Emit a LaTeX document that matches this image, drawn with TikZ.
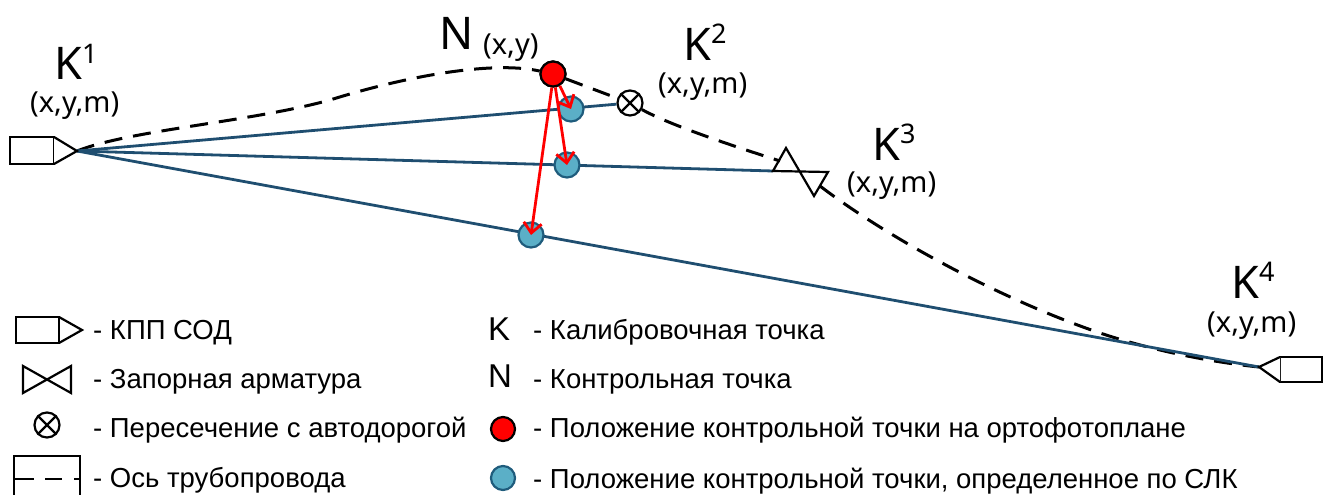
\documentclass[tikz,border=0pt]{standalone}
\usepackage{fontspec}
\setmainfont{Liberation Sans}
\newfontfamily\tah{Noto Sans}
\usetikzlibrary{arrows.meta}
\definecolor{pipeblue}{HTML}{1F4E70}
\definecolor{dotblue}{HTML}{5BAFC7}
\definecolor{dotedge}{HTML}{1F5C7C}
\tikzset{
 sym/.style={draw=black,line width=2.2pt,line join=miter},
 axis/.style={draw=black,line width=3pt,dash pattern=on 18pt off 11pt},
 route/.style={draw=pipeblue,line width=2.8pt},
 rarrow/.style={draw=red,line width=2.8pt,-{Straight Barb[length=10pt,width=18pt,line width=2.8pt]}},
 reddot/.style={circle,draw=black,fill=red,line width=2.2pt,minimum size=25pt,inner sep=0pt},
 bluedot/.style={circle,draw=dotedge,fill=dotblue,line width=2.2pt,minimum size=25pt,inner sep=0pt},
 crossc/.style={circle,draw=black,line width=2.2pt,minimum size=25pt,inner sep=0pt},
 bigk/.style={anchor=base west,inner sep=0pt,font=\tah\fontsize{45}{45}\selectfont},
 coord/.style={anchor=base west,inner sep=0pt,font=\tah\fontsize{29}{29}\selectfont},
 legk/.style={anchor=base west,inner sep=0pt,font=\fontsize{33}{33}\selectfont},
 legt/.style={anchor=base west,inner sep=0pt,font=\fontsize{27.5}{27.5}\selectfont},
}
\newcommand{\supr}[1]{\raisebox{17pt}{\fontsize{27}{27}\selectfont #1}}
\begin{document}
\begin{tikzpicture}[x=1pt,y=-1pt]
\useasboundingbox (0,0) rectangle (1333,495);
% anchors
\coordinate (ktip) at (77,151);
\coordinate (etip) at (1259,367);
\coordinate (vl) at (773,171);
\coordinate (vu) at (780,161);
\coordinate (vd) at (820,186);
\node[crossc] (road) at (630,103) {};
\draw[line width=2.2pt] (road.45)--(road.225) (road.135)--(road.315);
% axis
\node[reddot] (red) at (553,74) {};
\draw[axis] (ktip) .. controls (130,130) and (250,122) .. (330,100) .. controls (400,78) and (490,60) .. (red);
\draw[axis] (red) -- (road);
\draw[axis,dash phase=4pt] (road) .. controls (670,125) and (730,145) .. (vu);
\draw[axis] (vd) .. controls (880,232) and (990,295) .. (1097,332) .. controls (1150,350) and (1210,362) .. (etip);
% routes
\draw[route] (ktip) -- (road);
\draw[route] (ktip) -- (vl);
\draw[route] (ktip) -- (etip);
% KPP symbols
\draw[sym,fill=white] (10,137) rectangle (54,164);
\draw[sym,fill=white] (54,137) -- (ktip) -- (54,164);
\draw[sym,fill=white] (1280,357) rectangle (1322,382);
\draw[sym,fill=white] (1280,357) -- (etip) -- (1280,382);
% valve
\draw[sym] (786,148) -- (773,171) -- (828,172) -- (814,196) -- cycle;
% dots
\node[bluedot] (b1) at (571,109) {};
\node[bluedot] (b2) at (567,165) {};
\node[bluedot] (b3) at (531,235) {};
\node[reddot] (redtop) at (553,74) {};
\draw[rarrow] (redtop.300) -- (b1.center);
\draw[rarrow] (redtop.280) -- (b2.center);
\draw[rarrow] (redtop.265) -- (b3.center);
% top labels
\node[bigk] (k1) at (54,80) {K\supr{1}};
\node[coord] (k1c) at (30,112) {(x,y,m)};
\node[bigk] (k2) at (683,60) {K\supr{2}};
\node[coord] (k2c) at (658,93) {(x,y,m)};
\node[bigk] (k3) at (872,160) {K\supr{3}};
\node[coord] (k3c) at (847,192) {(x,y,m)};
\node[bigk] (k4) at (1231,298) {K\supr{4}};
\node[coord] (k4c) at (1207,332) {(x,y,m)};
\node[bigk] (n) at (439,49) {N};
\node[coord] (nc) at (483,55) {(x,y)};
% legend symbols
\draw[sym] (16,317) rectangle (59,343);
\draw[sym] (59,317) -- (82,330) -- (59,343);
\draw[sym] (23,366) -- (71,393) -- (71,366) -- (23,393) -- cycle;
\node[crossc] (lroad) at (47,425) {};
\draw[line width=2.2pt] (lroad.45)--(lroad.225) (lroad.135)--(lroad.315);
\coordinate (la) at (14,495); \coordinate (lb) at (14,456); \coordinate (lc) at (80,456); \coordinate (ld) at (80,495);
\coordinate (le) at (14,479); \coordinate (lf) at (80,479);
\draw[line width=1.8pt] (la) -- (lb) -- (lc) -- (ld);
\draw[line width=2.4pt,dash pattern=on 20pt off 11pt on 17pt off 12pt on 6pt off 10pt] (le) -- (lf);
\node[bluedot,minimum size=24pt] (ldb) at (503,478) {};
\node[reddot,minimum size=24pt] (ldr) at (503,429) {};
% legend text
\node[legt] (t1) at (93,339) {- КПП СОД};
\node[legt] (t2) at (93,388) {- Запорная арматура};
\node[legt] (t3) at (93,437) {- Пересечение с автодорогой};
\node[legt] (t4) at (93,487) {- Ось трубопровода};
\node[legk] (lk) at (488,340) {K};
\node[legk] (ln) at (488,387) {N};
\node[legt] (t5) at (533,339) {- Калибровочная точка};
\node[legt] (t6) at (533,388) {- Контрольная точка};
\node[legt] (t7) at (533,437) {- Положение контрольной точки на ортофотоплане};
\node[legt] (t8) at (533,488) {- Положение контрольной точки, определенное по СЛК};
\end{tikzpicture}
\end{document}
